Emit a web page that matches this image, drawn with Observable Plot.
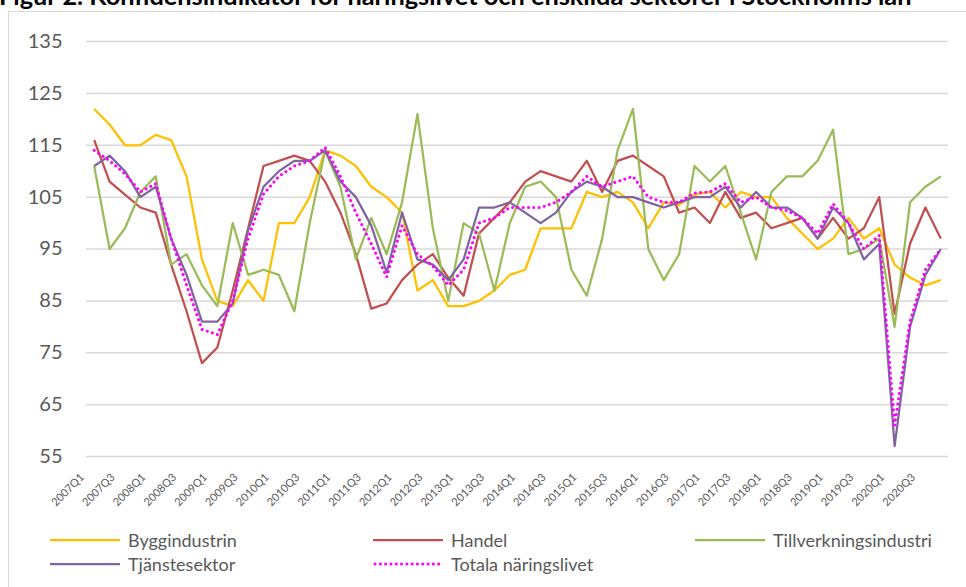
<!DOCTYPE html>
<html><head><meta charset="utf-8">
<script src="https://cdn.jsdelivr.net/npm/d3@7"></script>
<script src="https://cdn.jsdelivr.net/npm/@observablehq/plot@0.6"></script>
<style>
html,body{margin:0;padding:0;background:#fff;}
body{width:966px;height:587px;overflow:hidden;position:relative;font-family:Lato,"Open Sans",sans-serif;}
#frame{position:absolute;left:8px;top:11px;width:1100px;height:700px;border-left:1.5px solid #d9d9d9;border-top:1.5px solid #d9d9d9;}
#title{position:absolute;left:-1px;top:-20.5px;font-weight:bold;font-size:25.3px;line-height:30.4px;white-space:nowrap;color:#000;}
#chart{position:absolute;left:0;top:0;}
.leg{position:absolute;display:flex;align-items:center;height:22px;font-size:18px;color:#595959;white-space:nowrap;}
.leg svg{margin-right:8px;}
</style>
</head><body>
<div id="frame"></div>
<div id="title">Figur 2. Konfidensindikator för näringslivet och enskilda sektorer i Stockholms län</div>
<div id="chart"></div>
<div id="legend"></div>
<script>
const quarters = ["2007Q1","2007Q2","2007Q3","2007Q4","2008Q1","2008Q2","2008Q3","2008Q4",
"2009Q1","2009Q2","2009Q3","2009Q4","2010Q1","2010Q2","2010Q3","2010Q4",
"2011Q1","2011Q2","2011Q3","2011Q4","2012Q1","2012Q2","2012Q3","2012Q4",
"2013Q1","2013Q2","2013Q3","2013Q4","2014Q1","2014Q2","2014Q3","2014Q4",
"2015Q1","2015Q2","2015Q3","2015Q4","2016Q1","2016Q2","2016Q3","2016Q4",
"2017Q1","2017Q2","2017Q3","2017Q4","2018Q1","2018Q2","2018Q3","2018Q4",
"2019Q1","2019Q2","2019Q3","2019Q4","2020Q1","2020Q2","2020Q3","2020Q4"];

const xTickLabels = ["2007Q1","2007Q3","2008Q1","2008Q3","2009Q1","2009Q3","2010Q1","2010Q3",
"2011Q1","2011Q3","2012Q1","2012Q3","2013Q1","2013Q3","2014Q1","2014Q3","2015Q1","2015Q3",
"2016Q1","2016Q3","2017Q1","2017Q3","2018Q1","2018Q3","2019Q1","2019Q3","2020Q1","2020Q3"];

const yTicks = [55,65,75,85,95,105,115,125,135];

const byggindustrin = [122,119,115,115,117,116,109,93,85,84,89,85,100,100,105,114,113,111,107,105,102,87,89,84,84,85,87,90,91,99,99,99,106,105,106,104,99,104,103.5,105.5,106,103,106,105,105,101,98,95,97,101,97,99,92,89.5,88,89];
const handel = [116,108,105.5,103,102,92,83,73,76,87,99,111,112,113,112,108,102,94,83.5,84.5,89,92,94,89.5,86,98,101,104,108,110,109,108,112,106,112,113,111,109,102,103,100,106,101,102,99,100,101,97,101,97,99,105,82.5,96,103,97];
const tillverkning = [111,95,99,106,109,92,94,88,84,100,90,91,90,83,100,114,107,93,101,94,104,121,99,85,100,98,87,100,107,108,105,91,86,97,114,122,95,89,94,111,108,111,102,93,106,109,109,112,118,94,95,97,80,104,107,109];
const tjanste = [111,113,110,105,107,97,90,81,81,84.5,98.6,107,110,112,112,114,108,105,99.5,90.5,102,93,92,89,93,103,103,104,102,100,102,106,108,107,105,105,104,103,104,105,105,107,103,106,103,103,101,97,103,100,93,96,57,80,90,95];
const totala = [114,112,109.5,106,107.6,97,88,79.5,78.5,85,97,105.6,109,111,112,114.6,109,102,96,89.6,99.5,94,91.7,88,91,100,101,103,103,103,104,106,109,107,108,109,105,104,104,105.8,106,107.6,104,105,103,102.4,101,98,103.7,100,95,97.6,61,81,91,95];

const seriesNames = ["Byggindustrin","Handel","Tillverkningsindustri","Tjänstesektor","Totala näringslivet"];
const seriesValues = [byggindustrin, handel, tillverkning, tjanste, totala];
const seriesColors = ["#FFC000","#C0504D","#9BBB59","#8064A2","#FF00FF"];

const toRows = vals => quarters.map((q, i) => ({q, v: vals[i]}));

const lineMarks = seriesValues.map((vals, k) => {
  const dotted = k === 4;
  return Plot.line(toRows(vals), {
    x: "q", y: "v",
    stroke: seriesColors[k],
    strokeWidth: dotted ? 3 : 2.25,
    strokeDasharray: dotted ? "0.1 5.2" : null,
    strokeLinecap: dotted ? "round" : "butt",
    strokeLinejoin: "round"
  });
});

const chart = Plot.plot({
  width: 966,
  height: 530,
  marginLeft: 86,
  marginRight: 18,
  marginTop: 41,
  marginBottom: 74,
  style: {background: "transparent", fontFamily: "Lato, 'Open Sans', sans-serif"},
  x: {type: "point", domain: quarters, padding: 0.5, round: false, label: null},
  y: {domain: [55, 135], label: null},
  marks: [
    Plot.ruleY(yTicks, {stroke: "#d9d9d9", strokeWidth: 1.5}),
    Plot.axisY({ticks: yTicks, tickSize: 0, tickPadding: 24, fontSize: 20, fill: "#595959", label: null}),
    Plot.axisX({ticks: xTickLabels, tickSize: 0, tickPadding: 19, tickRotate: -45, fontSize: 11, fill: "#595959", label: null, dx: -12}),
    ...lineMarks
  ]
});
document.getElementById("chart").appendChild(chart);

const legendPos = [[50,529],[373,529],[695,529],[50,553],[373,553]];
const leg = document.getElementById("legend");
seriesNames.forEach((name, k) => {
  const d = document.createElement("div");
  d.className = "leg";
  d.style.left = legendPos[k][0] + "px";
  d.style.top = legendPos[k][1] + "px";
  const dotted = k === 4;
  d.innerHTML = `<svg width="70" height="6"><line x1="${dotted?2:0}" y1="3" x2="${dotted?69:70}" y2="3" stroke="${seriesColors[k]}" stroke-width="${dotted?3:2.25}" ${dotted?'stroke-dasharray="0.1 5.2" stroke-linecap="round"':''}/></svg><span>${name}</span>`;
  leg.appendChild(d);
});
</script>
</body></html>
